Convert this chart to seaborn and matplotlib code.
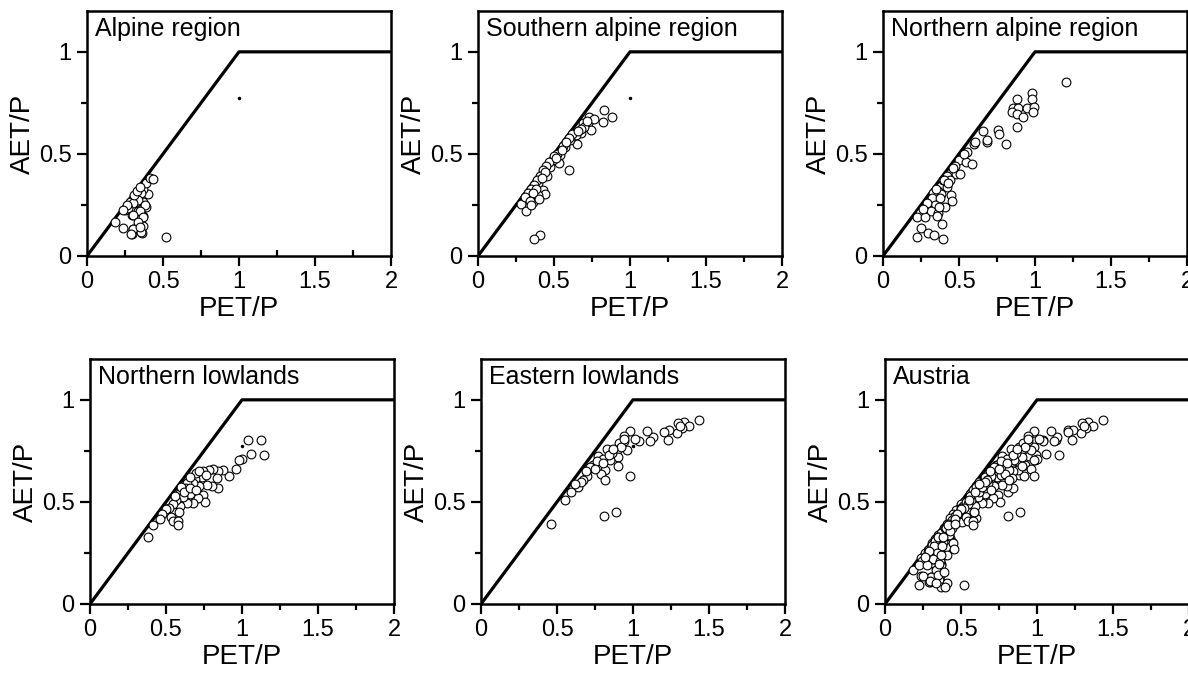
import numpy as np
import pandas as pd
import matplotlib
matplotlib.use("Agg")
import matplotlib.pyplot as plt
import seaborn as sns

# Budyko limits (energy limit, then water limit)
limit_x = [0, 1, 2]
limit_y = [0, 1, 1]

region_names = ["Alpine region", "Southern alpine region", "Northern alpine region",
                "Northern lowlands", "Eastern lowlands", "Austria"]

alpine_pet = [0.184, 0.239, 0.294, 0.36, 0.305, 0.344, 0.366, 0.294, 0.366, 0.33, 0.25, 0.294,
              0.338, 0.388, 0.37, 0.32, 0.283, 0.338, 0.399, 0.366, 0.386, 0.414, 0.436, 0.52,
              0.357, 0.335, 0.3, 0.382, 0.27, 0.346, 0.3, 0.366, 0.335, 0.3, 0.357, 0.29, 0.31,
              0.33, 0.35, 0.26, 0.237, 0.346]
alpine_aet = [0.168, 0.136, 0.106, 0.114, 0.134, 0.168, 0.145, 0.201, 0.196, 0.20, 0.225, 0.234,
              0.22, 0.242, 0.266, 0.266, 0.266, 0.291, 0.302, 0.327, 0.356, 0.384, 0.376, 0.095,
              0.307, 0.275, 0.258, 0.25, 0.234, 0.222, 0.201, 0.193, 0.168, 0.132, 0.118, 0.108, 0.30,
              0.32, 0.34, 0.25, 0.225, 0.144]

south_pet = [0.829, 0.882, 0.825, 0.732, 0.693, 0.726, 0.741, 0.675, 0.645, 0.653, 0.605, 0.572,
             0.539, 0.535, 0.496, 0.474, 0.456, 0.596, 0.397, 0.425, 0.44, 0.395, 0.331, 0.364,
             0.281, 0.316, 0.408, 0.371, 0.62, 0.60, 0.56, 0.52, 0.50, 0.47, 0.45, 0.43, 0.41,
             0.39, 0.37, 0.35, 0.33, 0.31, 0.70, 0.68, 0.66, 0.76, 0.72, 0.58, 0.55, 0.51, 0.44,
             0.42, 0.38, 0.36, 0.34, 0.40, 0.35]
south_aet = [0.716, 0.683, 0.655, 0.681, 0.652, 0.649, 0.618, 0.601, 0.593, 0.549, 0.569, 0.533,
             0.495, 0.454, 0.471, 0.438, 0.392, 0.422, 0.356, 0.324, 0.304, 0.30, 0.283, 0.263,
             0.257, 0.222, 0.104, 0.083, 0.60, 0.58, 0.54, 0.50, 0.49, 0.46, 0.44, 0.42, 0.39,
             0.37, 0.35, 0.33, 0.31, 0.29, 0.63, 0.62, 0.61, 0.67, 0.66, 0.56, 0.52, 0.48, 0.41,
             0.38, 0.33, 0.31, 0.27, 0.28, 0.25]

north_pet = [1.204, 0.978, 0.982, 0.879, 0.853, 0.89, 0.945, 0.993, 0.989, 0.846, 0.879, 0.919,
             0.879, 0.656, 0.754, 0.765, 0.682, 0.686, 0.809, 0.601, 0.605, 0.551, 0.502, 0.546,
             0.583, 0.474, 0.48, 0.507, 0.419, 0.441, 0.392, 0.419, 0.36, 0.331, 0.384, 0.445,
             0.32, 0.375, 0.452, 0.342, 0.287, 0.408, 0.30, 0.27, 0.314, 0.364, 0.243, 0.353,
             0.222, 0.276, 0.386, 0.248, 0.294, 0.338, 0.222, 0.397, 0.53, 0.46, 0.40, 0.35,
             0.29, 0.26, 0.37, 0.43]
north_aet = [0.85, 0.797, 0.768, 0.77, 0.727, 0.724, 0.727, 0.729, 0.704, 0.704, 0.696, 0.68,
             0.634, 0.614, 0.617, 0.596, 0.556, 0.567, 0.547, 0.549, 0.56, 0.511, 0.471, 0.459,
             0.451, 0.441, 0.40, 0.40, 0.394, 0.373, 0.37, 0.34, 0.319, 0.307, 0.302, 0.299,
             0.286, 0.285, 0.271, 0.25, 0.245, 0.239, 0.225, 0.215, 0.222, 0.212, 0.21, 0.197,
             0.19, 0.19, 0.157, 0.139, 0.111, 0.103, 0.095, 0.082, 0.50, 0.43, 0.37, 0.33,
             0.26, 0.23, 0.24, 0.36]

nlow_pet = [1.125, 1.037, 1.147, 1.057, 1.002, 0.98, 0.958, 0.914, 0.877, 0.84, 0.811, 0.78,
            0.746, 0.833, 0.84, 0.80, 0.768, 0.735, 0.691, 0.719, 0.68, 0.636, 0.746, 0.757,
            0.713, 0.68, 0.636, 0.636, 0.592, 0.66, 0.614, 0.592, 0.566, 0.544, 0.522, 0.50,
            0.471, 0.588, 0.531, 0.544, 0.581, 0.581, 0.46, 0.417, 0.379, 0.632, 0.60, 0.70,
            0.72, 0.66, 0.62, 0.56, 0.66, 0.70, 0.76]
nlow_aet = [0.804, 0.804, 0.729, 0.735, 0.709, 0.703, 0.662, 0.627, 0.657, 0.65, 0.66, 0.657,
            0.65, 0.616, 0.57, 0.58, 0.584, 0.62, 0.611, 0.578, 0.594, 0.591, 0.534, 0.501,
            0.518, 0.497, 0.51, 0.493, 0.542, 0.54, 0.523, 0.48, 0.51, 0.49, 0.469, 0.464,
            0.441, 0.452, 0.428, 0.405, 0.405, 0.389, 0.415, 0.387, 0.33, 0.567, 0.575, 0.64,
            0.65, 0.62, 0.55, 0.53, 0.57, 0.56, 0.63]

east_pet = [1.436, 1.338, 1.298, 1.369, 1.322, 1.287, 1.237, 1.206, 1.228, 1.134, 1.114, 1.09,
            1.039, 1.013, 0.98, 0.943, 0.941, 0.91, 0.963, 0.893, 0.831, 0.903, 0.85, 0.772,
            0.805, 0.903, 0.739, 0.706, 0.783, 0.816, 0.787, 0.816, 0.98, 0.695, 0.673, 0.64,
            0.592, 0.555, 0.811, 0.886, 0.461, 0.86, 0.92, 0.76, 0.72, 0.80, 0.84, 0.87, 0.66,
            0.62, 0.75, 0.69, 0.94, 1.31]
east_aet = [0.899, 0.889, 0.886, 0.873, 0.864, 0.837, 0.85, 0.842, 0.801, 0.82, 0.796, 0.845,
            0.799, 0.807, 0.845, 0.824, 0.796, 0.791, 0.755, 0.752, 0.758, 0.719, 0.706, 0.725,
            0.709, 0.678, 0.682, 0.66, 0.66, 0.657, 0.637, 0.608, 0.627, 0.627, 0.608, 0.572,
            0.551, 0.507, 0.433, 0.449, 0.394, 0.74, 0.77, 0.70, 0.67, 0.69, 0.73, 0.76, 0.60,
            0.59, 0.66, 0.65, 0.81, 0.87]

# tiny stray mark visible near (1, 0.77) in some panels
stray_pet = [1.0]
stray_aet = [0.775]

pet_sets = [alpine_pet, south_pet, north_pet, nlow_pet, east_pet]
aet_sets = [alpine_aet, south_aet, north_aet, nlow_aet, east_aet]
# Austria = all regions together
pet_sets.append(sum(pet_sets, []))
aet_sets.append(sum(aet_sets, []))
stray_panels = [0, 1, 3, 4]

sns.set_theme(style="ticks")
plt.rcParams['font.family'] = ['Liberation Sans', 'DejaVu Sans']
plt.rcParams['text.color'] = 'black'
plt.rcParams['axes.labelcolor'] = 'black'
plt.rcParams['xtick.color'] = 'black'
plt.rcParams['ytick.color'] = 'black'

fig = plt.figure(figsize=(11.88, 6.75), dpi=100)
W, H = 1188, 675
lefts = [87, 478, 883, 90, 481, 885]
bottoms = [256, 256, 256, 604, 604, 604]
aw, ah = 304, 245

for i, name in enumerate(region_names):
    ax = fig.add_axes([lefts[i] / W, (H - bottoms[i]) / H, aw / W, ah / H])
    df = pd.DataFrame({"PET/P": pet_sets[i], "AET/P": aet_sets[i]})
    ax.plot(limit_x, limit_y, color="black", lw=2.3, solid_capstyle="butt", zorder=2)
    sns.scatterplot(data=df, x="PET/P", y="AET/P", ax=ax, s=40, color="white",
                    edgecolor="black", linewidth=0.8, zorder=3, clip_on=False)
    if i in stray_panels:
        ax.plot(stray_pet, stray_aet, marker="o", ms=1.5, color="black", lw=0)

    ax.set_xlim(0, 2)
    ax.set_ylim(0, 1.2)
    ax.set_xticks([0, 0.5, 1, 1.5, 2])
    ax.set_xticklabels(["0", "0.5", "1", "1.5", "2"])
    ax.set_yticks([0, 0.5, 1])
    ax.set_yticklabels(["0", "0.5", "1"])
    ax.set_xticks([0.25, 0.75, 1.25, 1.75], minor=True)
    ax.set_yticks([0.25, 0.75], minor=True)
    ax.tick_params(which="major", direction="out", length=7, width=1.6,
                   labelsize=17, color="black", labelcolor="black", pad=4)
    ax.tick_params(which="minor", direction="out", length=4, width=1.6, color="black")
    if i == 0:
        ax.tick_params(axis="x", which="minor", direction="in", length=4)
    for sp in ax.spines.values():
        sp.set_linewidth(1.8)
        sp.set_color("black")
    ax.set_xlabel("PET/P", fontsize=20, labelpad=2, color="black")
    ax.set_ylabel("AET/P", fontsize=20, labelpad=2, color="black")
    ax.text(0.025, 0.975, name, transform=ax.transAxes, ha="left", va="top",
            fontsize=18, color="black")
    ax.grid(False)

fig.savefig("out.png", dpi=100)
